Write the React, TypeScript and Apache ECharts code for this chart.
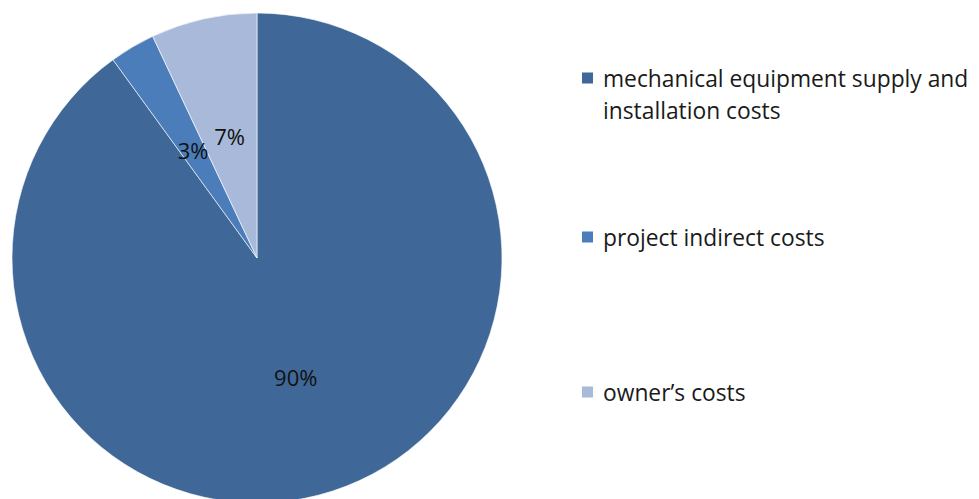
import React, { useEffect, useRef } from "react";
import * as echarts from "echarts";

const categories = [
  "mechanical equipment supply and installation costs",
  "project indirect costs",
  "owner\u2019s costs",
];
const legendLabels = [
  "\nmechanical equipment supply and\ninstallation costs",
  "project indirect costs",
  "owner\u2019s costs",
];
const values = [90, 3, 7];
const colors = ["#3F6898", "#4B7DBB", "#A9B9D9"];

export default function App() {
  const ref = useRef<HTMLDivElement>(null);
  useEffect(() => {
    if (!ref.current) return;
    const chart = echarts.init(ref.current, null, { renderer: "svg" });
    const font = "'Open Sans', sans-serif";
    const legendTops = [30, 221, 376];
    chart.setOption({
      animation: false,
      backgroundColor: "#ffffff",
      legend: categories.map((c, i) => ({
        data: [c],
        orient: "vertical",
        left: 580,
        top: legendTops[i],
        padding: 0,
        icon: "rect",
        itemWidth: 13,
        itemHeight: 13,
        selectedMode: false,
        formatter: () => legendLabels[i],
        textStyle: {
          fontFamily: font,
          fontSize: 22.8,
          color: "#1a1a1a",
          lineHeight: 32,
          padding: [0, 0, 0, 4],
        },
      })),
      series: [
        {
          type: "pie",
          center: [257, 258],
          radius: 245,
          startAngle: 90,
          clockwise: true,
          label: {
            show: true,
            position: "inside",
            formatter: "{c}%",
            fontFamily: font,
            fontSize: 22,
            color: "#111111",
          },
          labelLine: { show: false },
          itemStyle: { borderColor: "#ffffff", borderWidth: 0.6 },
          emphasis: { disabled: true },
          data: categories.map((c, i) => ({
            name: c,
            value: values[i],
            itemStyle: { color: colors[i] },
          })),
        },
      ],
    });
    return () => chart.dispose();
  }, []);
  return (
    <div
      ref={ref}
      style={{ position: "fixed", left: 0, top: 0, width: 979, height: 499 }}
    />
  );
}
